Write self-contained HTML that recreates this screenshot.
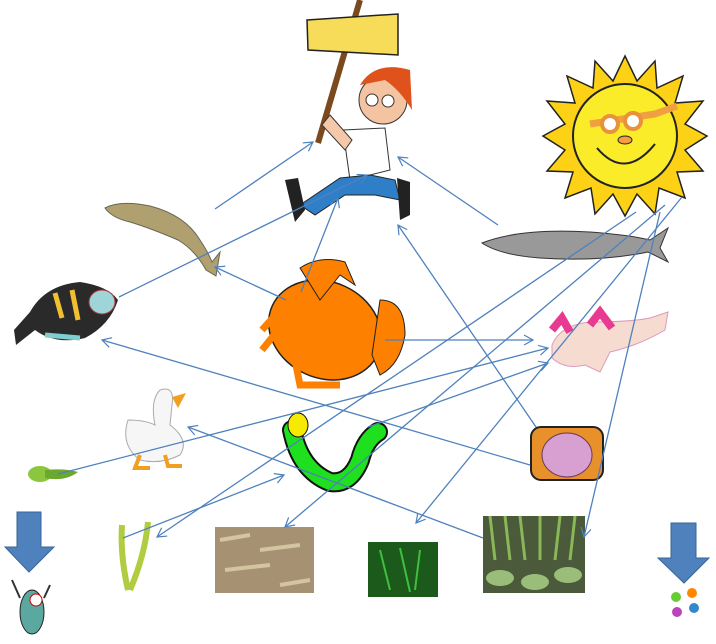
<!DOCTYPE html>
<html><head><meta charset="utf-8"><style>html,body{margin:0;padding:0;background:#fff}svg{display:block}</style></head>
<body>
<svg width="716" height="644" viewBox="0 0 716 644" xmlns="http://www.w3.org/2000/svg">
<defs>
<marker id="a" markerWidth="12" markerHeight="12" refX="10" refY="6" orient="auto" markerUnits="userSpaceOnUse">
<path d="M1,1 L10,6 L1,11" fill="none" stroke="#4f81bd" stroke-width="1.2"/></marker>
</defs>
<!-- sign & man -->
<path d="M360,0 L318,143" stroke="#7a4a1e" stroke-width="6"/>
<path d="M307,20 L398,14 L398,55 L308,50 Z" fill="#f7dc5a" stroke="#222" stroke-width="1.5"/>
<path d="M343,130 L385,128 L390,170 L350,180 Z" fill="#fff" stroke="#333"/>
<path d="M330,115 L352,140 L345,150 L322,125 Z" fill="#f4c8a8" stroke="#333"/>
<circle cx="383" cy="100" r="24" fill="#f4c3a2" stroke="#333"/>
<path d="M360,85 Q375,60 410,70 L412,110 Q400,90 385,80 Z" fill="#e0521c"/>
<circle cx="372" cy="100" r="6" fill="#fff" stroke="#333"/><circle cx="388" cy="101" r="6" fill="#fff" stroke="#333"/>
<path d="M300,205 L340,178 L370,175 L395,180 L400,200 L375,195 L345,195 L315,215 Z" fill="#2f7ec8" stroke="#222"/>
<path d="M285,180 L298,178 L305,210 L295,222 Z" fill="#222"/>
<path d="M397,178 L410,182 L410,215 L400,220 Z" fill="#222"/>
<!-- sun -->
<g transform="translate(625,136)">
<polygon fill="#fcd116" stroke="#222" stroke-width="1.5" points="0,-80 12,-55 30,-75 32,-48 58,-60 50,-33 78,-35 60,-12 82,0 60,14 78,35 52,36 60,62 34,52 30,78 12,58 0,80 -12,58 -30,78 -34,52 -60,62 -52,36 -78,35 -60,14 -82,0 -60,-12 -78,-35 -50,-33 -58,-60 -32,-48 -30,-75 -12,-55"/>
<circle r="52" fill="#fbec2a" stroke="#222" stroke-width="2"/>
<path d="M-35,-12 L30,-22 L52,-30" stroke="#f0a040" stroke-width="7" fill="none"/>
<circle cx="-15" cy="-12" r="8" fill="#fff" stroke="#e8923a" stroke-width="4"/><circle cx="8" cy="-15" r="8" fill="#fff" stroke="#e8923a" stroke-width="4"/>
<ellipse cx="0" cy="4" rx="7" ry="4" fill="#f4a040" stroke="#222"/>
<path d="M-28,12 Q0,45 30,8" stroke="#222" stroke-width="2" fill="none"/>
</g>
<!-- trout -->
<path d="M105,208 Q120,200 150,206 Q185,215 200,240 Q208,252 212,262 L220,252 L216,276 L206,270 Q195,250 178,240 Q150,228 130,222 Q112,218 105,208 Z" fill="#b0a070" stroke="#665"/>
<!-- bass -->
<path d="M14,330 L30,312 Q45,285 80,282 Q108,286 118,300 Q110,325 85,338 Q55,345 35,330 L16,345 Z" fill="#2a2a2a"/>
<ellipse cx="102" cy="302" rx="13" ry="12" fill="#9fd5d8" stroke="#a33"/>
<path d="M55,293 L62,318 M72,290 L78,320" stroke="#f0c030" stroke-width="5"/>
<path d="M45,335 L80,338" stroke="#7ecfd0" stroke-width="5"/>
<!-- herring -->
<path d="M482,243 Q520,228 590,232 Q630,235 650,240 L668,228 L660,248 L668,262 L648,252 Q600,262 540,258 Q500,255 482,243 Z" fill="#999" stroke="#333"/>
<!-- crab -->
<ellipse cx="325" cy="330" rx="58" ry="48" fill="#fd8000" stroke="#222" stroke-width="1.5" transform="rotate(25 325 330)"/>
<path d="M300,268 Q320,255 345,262 L355,285 L340,275 L320,300 Z" fill="#fd8000" stroke="#222"/>
<path d="M380,300 Q405,300 405,335 Q400,365 380,375 L372,355 Z" fill="#fd8000" stroke="#222"/>
<path d="M280,310 L262,330 M278,330 L262,350 M295,360 L300,385 L340,385" stroke="#fd8000" stroke-width="7" fill="none"/>
<!-- axolotl -->
<path d="M552,345 Q560,325 590,322 Q630,322 650,318 L668,312 L665,330 Q640,345 610,352 L600,372 L585,365 Q565,370 552,358 Z" fill="#f6dcd0" stroke="#d9b"/>
<path d="M552,330 L562,318 L570,332 M590,325 L600,312 L612,328" stroke="#e83a90" stroke-width="8" fill="none"/>
<!-- duck -->
<path d="M160,390 Q175,385 172,405 L170,425 Q190,440 180,455 Q160,465 140,460 Q120,445 128,420 Q145,420 155,425 Q150,400 160,390 Z" fill="#f6f6f6" stroke="#aaa"/>
<path d="M172,397 L186,393 L178,408 Z" fill="#f0a020"/>
<path d="M140,455 L135,468 L150,468 M165,455 L168,466 L182,466" stroke="#f0a020" stroke-width="4" fill="none"/>
<!-- tadpole -->
<ellipse cx="40" cy="474" rx="12" ry="8" fill="#8cc63e"/><path d="M45,470 Q65,468 78,472 Q65,482 45,478 Z" fill="#6aa82e"/>
<!-- worm -->
<path d="M292,430 Q300,470 330,482 Q350,485 360,460 Q365,440 378,432" stroke="#111" stroke-width="20" fill="none" stroke-linecap="round"/>
<path d="M292,430 Q300,470 330,482 Q350,485 360,460 Q365,440 378,432" stroke="#1ee01e" stroke-width="16" fill="none" stroke-linecap="round"/>
<ellipse cx="298" cy="425" rx="10" ry="12" fill="#f5ea00" stroke="#111"/>
<!-- clam -->
<rect x="531" y="427" width="72" height="53" rx="10" fill="#e8902a" stroke="#222" stroke-width="2"/>
<ellipse cx="567" cy="455" rx="25" ry="22" fill="#d8a0d0" stroke="#6a3a5a"/>
<!-- reeds -->
<path d="M128,590 Q120,555 122,525 M130,590 Q145,555 148,522" stroke="#b0cc40" stroke-width="6" fill="none"/>
<!-- straw -->
<rect x="215" y="527" width="99" height="66" fill="#a69272"/>
<path d="M220,540 L250,535 M260,550 L300,545 M225,570 L270,565 M280,585 L310,580" stroke="#d4c4a0" stroke-width="4"/>
<!-- moss -->
<rect x="368" y="542" width="70" height="55" fill="#1c5a1c"/>
<path d="M380,550 L390,590 M400,548 L410,592 M420,550 L415,590" stroke="#3ec03e" stroke-width="2"/>
<!-- plants -->
<rect x="483" y="516" width="102" height="77" fill="#4a5a3a"/>
<path d="M490,516 L495,560 M505,516 L510,560 M520,516 L525,560 M540,516 L540,560 M560,516 L555,560 M575,516 L570,560" stroke="#8ab858" stroke-width="3"/>
<ellipse cx="500" cy="578" rx="14" ry="8" fill="#9abe7a"/><ellipse cx="535" cy="582" rx="14" ry="8" fill="#9abe7a"/><ellipse cx="568" cy="575" rx="14" ry="8" fill="#9abe7a"/>
<!-- plankton -->
<ellipse cx="32" cy="612" rx="12" ry="22" fill="#5aa8a0" stroke="#222"/><circle cx="36" cy="600" r="6" fill="#fff" stroke="#c00"/>
<path d="M20,598 L12,580 M44,598 L50,585" stroke="#333" stroke-width="2"/>
<!-- bugs -->
<circle cx="676" cy="597" r="5" fill="#6c3"/><circle cx="692" cy="593" r="5" fill="#f80"/><circle cx="677" cy="612" r="5" fill="#b4b"/><circle cx="694" cy="608" r="5" fill="#38c"/>
<!-- big arrows -->
<path d="M17,512 L41,512 L41,547 L54,547 L29,572 L5,547 L17,547 Z" fill="#4f81bd" stroke="#3a6496"/>
<path d="M671,523 L696,523 L696,558 L709,558 L684,583 L658,558 L671,558 Z" fill="#4f81bd" stroke="#3a6496"/>
<!-- connectors -->
<g stroke="#4f81bd" stroke-width="1.3" fill="none" marker-end="url(#a)">
<line x1="215" y1="209" x2="313" y2="142"/>
<line x1="119" y1="297" x2="367" y2="175"/>
<line x1="301" y1="292" x2="338" y2="198"/>
<line x1="498" y1="225" x2="398" y2="157"/>
<line x1="536" y1="427" x2="398" y2="225"/>
<line x1="286" y1="300" x2="215" y2="267"/>
<line x1="385" y1="340" x2="533" y2="340"/>
<line x1="530" y1="465" x2="102" y2="340"/>
<line x1="58" y1="474" x2="548" y2="348"/>
<line x1="368" y1="427" x2="548" y2="363"/>
<line x1="483" y1="538" x2="188" y2="427"/>
<line x1="636" y1="212" x2="157" y2="537"/>
<line x1="665" y1="205" x2="285" y2="527"/>
<line x1="682" y1="197" x2="416" y2="523"/>
<line x1="660" y1="212" x2="584" y2="537"/>
<line x1="123" y1="538" x2="284" y2="475"/>
</g>
</svg>
</body></html>
